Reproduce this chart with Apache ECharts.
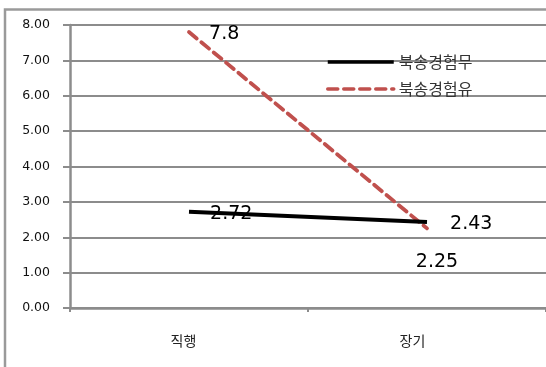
<!DOCTYPE html>
<html>
<head>
<meta charset="utf-8">
<script src="https://cdn.jsdelivr.net/npm/echarts@6/dist/echarts.min.js"></script>
<style>
  html, body { margin: 0; padding: 0; background: #ffffff; }
  #chart { width: 546px; height: 367px; }
</style>
</head>
<body>
<div id="chart"></div>
<script>
// Categories and the two series (return experience: none / yes)
const categories = ['직행', '장기'];
const seriesNames = ['북송경험무', '북송경험유'];
const noReturnValues = [2.72, 2.43];
const returnValues = [7.8, 2.25];
const yMin = 0;
const yMax = 8;
const yStep = 1;

// Per-category label nudges (right padding shifts the centred text left)
const categoryLabelPadding = [[0, 11, 0, 0], [0, 29, 0, 0]];

// Per-point label placement (style only, values come from the arrays above)
const noReturnLabelStyle = [
  { position: 'right', distance: 21, offset: [0, 2] },
  { position: 'right', distance: 23, offset: [0, 2] }
];
const returnLabelStyle = [
  { position: 'right', distance: 20, offset: [0, 2] },
  { position: 'bottom', distance: 24, offset: [10, 0] }
];

const gridGray = '#8c8c8c';
const labelFont = 'DejaVu Sans, Verdana, sans-serif';
const koreanFont = '"Noto Sans CJK KR", sans-serif';

function withLabels(values, styles) {
  return values.map((v, i) => ({
    value: v,
    label: Object.assign({ show: true }, styles[i])
  }));
}

const chart = echarts.init(document.getElementById('chart'), null, { renderer: 'canvas' });

chart.setOption({
  animation: false,
  backgroundColor: '#ffffff',
  graphic: [{
    type: 'rect',
    z: -10,
    shape: { x: 5, y: 9.5, width: 600, height: 420 },
    style: { fill: 'none', stroke: '#9a9a9a', lineWidth: 2.5 }
  }],
  grid: {
    left: 70,
    top: 25,
    width: 478,
    bottom: 59
  },
  legend: {
    orient: 'vertical',
    left: 321,
    top: 49,
    itemWidth: 66,
    itemHeight: 14,
    itemGap: 11,
    data: seriesNames,
    lineStyle: { width: 3.5 },
    textStyle: { fontFamily: koreanFont, fontSize: 16, color: '#333333' }
  },
  xAxis: {
    type: 'category',
    data: categories.map((c, i) => ({
      value: c,
      textStyle: { padding: categoryLabelPadding[i] }
    })),
    boundaryGap: true,
    axisLine: { lineStyle: { color: gridGray, width: 2.5 } },
    axisTick: { show: true, length: 4, lineStyle: { color: gridGray, width: 2 } },
    axisLabel: {
      margin: 26,
      fontFamily: koreanFont,
      fontSize: 14,
      color: '#222222'
    }
  },
  yAxis: {
    type: 'value',
    min: yMin,
    max: yMax,
    interval: yStep,
    axisLine: { show: true, lineStyle: { color: gridGray, width: 2.5 } },
    axisTick: { show: true, length: 7, lineStyle: { color: gridGray, width: 2 } },
    splitLine: { show: true, lineStyle: { color: gridGray, width: 2 } },
    axisLabel: {
      margin: 20,
      fontFamily: labelFont,
      fontSize: 12.5,
      color: '#111111',
      formatter: v => v.toFixed(2)
    }
  },
  series: [
    {
      name: seriesNames[0],
      type: 'line',
      data: withLabels(noReturnValues, noReturnLabelStyle),
      symbol: 'circle',
      symbolSize: 0.1,
      itemStyle: { color: 'rgba(0,0,0,0)' },
      lineStyle: { color: '#000000', width: 4, type: 'solid' },
      label: { fontFamily: labelFont, fontSize: 19, color: '#000000' },
      z: 3
    },
    {
      name: seriesNames[1],
      type: 'line',
      data: withLabels(returnValues, returnLabelStyle),
      symbol: 'circle',
      symbolSize: 0.1,
      itemStyle: { color: 'rgba(0,0,0,0)' },
      lineStyle: { color: '#c0504d', width: 3.8, type: [10, 6], cap: 'round' },
      label: { fontFamily: labelFont, fontSize: 19, color: '#000000' },
      z: 2
    }
  ]
});
</script>
</body>
</html>
